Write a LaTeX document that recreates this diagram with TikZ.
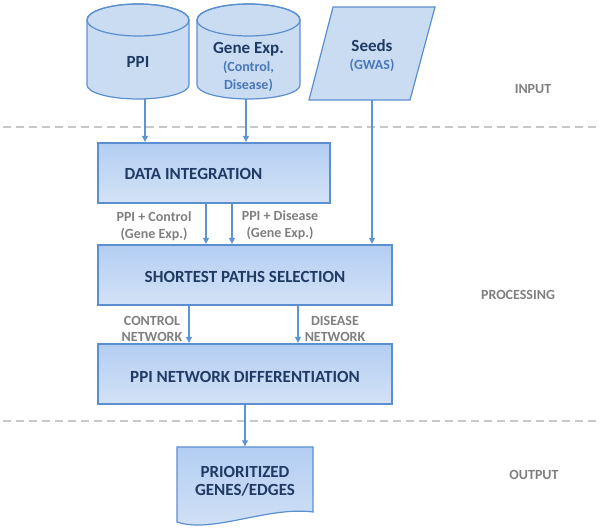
\documentclass[tikz,border=0pt]{standalone}
\usepackage{fontspec}
\setmainfont{Carlito}
\usetikzlibrary{arrows.meta}
\definecolor{navy}{HTML}{1F3B63}
\definecolor{subblue}{HTML}{4A78B8}
\definecolor{lblgray}{HTML}{7F7F7F}
\definecolor{edge}{HTML}{5B8FD0}
\definecolor{arrowblue}{HTML}{5B93D3}
\definecolor{cylfill}{HTML}{C9DCF2}
\definecolor{boxtop}{HTML}{B3CEF3}
\definecolor{boxbot}{HTML}{D3E2F6}
\definecolor{dashgray}{HTML}{C8C8C8}
\tikzset{
  title/.style={font=\bfseries\fontsize{17}{19}\selectfont, text=navy, align=center},
  lbl/.style={font=\bfseries\fontsize{14}{16.5}\selectfont, text=lblgray, align=center},
  procbox/.style={draw=edge, line width=1.2pt, top color=boxtop, bottom color=boxbot, rectangle, inner sep=0pt},
  shapefill/.style={draw=edge, line width=1.2pt, fill=cylfill},
  arr/.style={draw=arrowblue, line width=2pt, -{Latex[length=6.5pt,width=7pt]}},
  sep/.style={draw=dashgray, line width=2pt, dash pattern=on 8pt off 5pt},
  ghost/.style={rectangle, inner sep=0pt}
}
\newcommand{\subtx}[1]{{\fontsize{14}{16.5}\selectfont\color{subblue}#1}}
\begin{document}
\begin{tikzpicture}[x=1pt,y=1pt]
\useasboundingbox (0,0) rectangle (600,530);
% separators
\draw[sep] (3,403) -- (597,403);
\draw[sep] (3,109) -- (597,109);
% PPI cylinder
\path[shapefill] (87,510) -- (87,445) arc[start angle=180,end angle=360,x radius=51,y radius=14] -- (189,510) arc[start angle=0,end angle=180,x radius=51,y radius=16] -- cycle;
\draw[draw=edge, line width=1.2pt] (138,510) ellipse [x radius=51, y radius=16];
\node[ghost, minimum width=102pt, minimum height=96pt] (ppi) at (138,479) {};
\node[title] (ppit) at (138,468) {PPI};
% Gene cylinder
\path[shapefill] (197,510) -- (197,445) arc[start angle=180,end angle=360,x radius=51.5,y radius=14] -- (300,510) arc[start angle=0,end angle=180,x radius=51.5,y radius=16] -- cycle;
\draw[draw=edge, line width=1.2pt] (248.5,510) ellipse [x radius=51.5, y radius=16];
\node[ghost, minimum width=103pt, minimum height=96pt] (gene) at (248.5,479) {};
\node[title] (genet) at (248.5,463) {Gene Exp.\\[-1pt]\subtx{(Control,}\\[-1pt]\subtx{Disease)}};
% Seeds parallelogram
\path[shapefill] (333,523) -- (435,523) -- (410,430) -- (309,430) -- cycle;
\node[ghost, minimum width=126pt, minimum height=93pt] (seeds) at (372,476.5) {};
\node[title] (seedst) at (372,474.5) {Seeds\\[-1pt]\subtx{(GWAS)}};
% Data integration
\node[procbox, minimum width=232pt, minimum height=60pt] (di) at (214,357) {};
\node[title, anchor=west] (dit) at (121,356) {DATA INTEGRATION};
% Shortest paths
\node[procbox, minimum width=294pt, minimum height=60pt] (sps) at (245,255) {};
\node[title] (spst) at (245,253) {SHORTEST PATHS SELECTION};
% PPI network differentiation
\node[procbox, minimum width=294pt, minimum height=60pt] (nd) at (245,156) {};
\node[title] (ndt) at (245,153) {PPI NETWORK DIFFERENTIATION};
% Document
\path[draw=edge, line width=1.2pt, top color=boxtop, bottom color=boxbot] (177,83) -- (177,8) .. controls (212,-4) and (268,24) .. (313,18) -- (313,83) -- cycle;
\node[ghost, minimum width=136pt, minimum height=75pt] (doc) at (245,45.5) {};
\node[title] (doct) at (245,49) {PRIORITIZED\\[-1pt]GENES/EDGES};
% arrows
\draw[arr] (ppi.south -| 145,0) -- (di.north -| 145,0);
\draw[arr] (gene.south -| 246,0) -- (di.north -| 246,0);
\draw[arr] (seeds.south) -- (seeds.south |- sps.north);
\draw[arr] (di.south -| 206,0) -- (sps.north -| 206,0);
\draw[arr] (di.south -| 232,0) -- (sps.north -| 232,0);
\draw[arr] (sps.south -| 189,0) -- (nd.north -| 189,0);
\draw[arr] (sps.south -| 298,0) -- (nd.north -| 298,0);
\draw[arr] (nd.south) -- (doc.north);
% labels
\node[lbl] (l1) at (154,304) {PPI + Control\\(Gene Exp.)};
\node[lbl] (l2) at (280,305) {PPI + Disease\\(Gene Exp.)};
\node[lbl] (l3) at (152,201) {CONTROL\\NETWORK};
\node[lbl] (l4) at (335,201) {DISEASE\\NETWORK};
\node[lbl] (s1) at (533,441) {INPUT};
\node[lbl] (s2) at (518,235) {PROCESSING};
\node[lbl] (s3) at (534,55) {OUTPUT};
\end{tikzpicture}
\end{document}
